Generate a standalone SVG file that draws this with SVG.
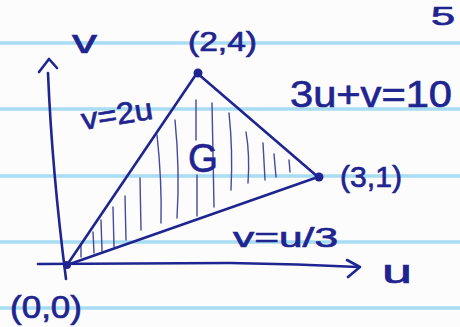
<svg xmlns="http://www.w3.org/2000/svg" width="460" height="327" viewBox="0 0 460 327">
<style>
.paper{fill:#fcfcfc}
.rule{stroke:#a8dcf2;stroke-width:3.5}
.ink{stroke:#1f2590;stroke-width:2.6;fill:none;stroke-linecap:round;stroke-linejoin:round}
.hatch{stroke:#454a9c;stroke-width:1.4;fill:none;stroke-linecap:round}
.dot{fill:#1f2590}
text{font-family:"Liberation Sans",Arial,sans-serif;fill:#1f2590;stroke:#1f2590;stroke-width:0.7}
</style>
<rect class="paper" width="460" height="327"/>
<g id="ruling">
<line class="rule" x1="0" y1="43" x2="460" y2="43"/>
<line class="rule" x1="0" y1="109" x2="460" y2="109"/>
<line class="rule" x1="0" y1="176" x2="460" y2="176"/>
<line class="rule" x1="0" y1="242" x2="460" y2="242"/>
<line class="rule" x1="0" y1="308" x2="460" y2="308"/>
</g>
<text x="431" y="25" font-size="25" textLength="24" lengthAdjust="spacingAndGlyphs">5</text>
<g id="hatching">
<path class="hatch" d="M81,246 L81,257"/>
<path class="hatch" d="M93,232 L94,253"/>
<path class="hatch" d="M101,220 L102,251"/>
<path class="hatch" d="M113,207 L114,247"/>
<path class="hatch" d="M125,196 L126,240"/>
<path class="hatch" d="M140,178 L141,230"/>
<path class="hatch" d="M157,135 Q162,180 161,223"/>
<path class="hatch" d="M175,120 Q180,170 177,218"/>
<path class="hatch" d="M196,100 L196,140"/>
<path class="hatch" d="M197,175 L197,216"/>
<path class="hatch" d="M212,103 L214,207"/>
<path class="hatch" d="M229,113 Q233,150 231,190"/>
<path class="hatch" d="M246,132 Q250,155 248,183"/>
<path class="hatch" d="M263,143 L265,180"/>
<path class="hatch" d="M274,154 L276,177"/>
<path class="hatch" d="M289,160 L290,172"/>
</g>
<g id="axis-v">
<path class="ink" d="M48,73 Q52,170 66,279"/>
<path class="ink" d="M39,72 L49,59 L57,68"/>
<text x="72" y="53" font-size="34" textLength="25" lengthAdjust="spacingAndGlyphs">v</text>
</g>
<g id="axis-u">
<path class="ink" d="M38,264 L230,263 Q300,264 358,267"/>
<path class="ink" d="M347,260 L360,267 L348,277"/>
<text x="382" y="283" font-size="34" textLength="30" lengthAdjust="spacingAndGlyphs">u</text>
</g>
<g id="connectors">
<path class="ink" d="M67,265 L197,73"/>
<path class="ink" d="M197,73 L318,177"/>
<path class="ink" d="M318,177 L67,265"/>
</g>
<g id="label-v2u">
<text x="83" y="130" font-size="30" textLength="72" lengthAdjust="spacingAndGlyphs" transform="rotate(-9 83 130)">v=2u</text>
</g>
<g id="label-3uv10">
<text x="290" y="107" font-size="36" textLength="162" lengthAdjust="spacingAndGlyphs">3u+v=10</text>
</g>
<g id="label-vu3">
<text x="233" y="247" font-size="28" textLength="105" lengthAdjust="spacingAndGlyphs">v=u/3</text>
</g>
<g id="region-G">
<text x="188" y="172" font-size="40" textLength="30" lengthAdjust="spacingAndGlyphs">G</text>
</g>
<g id="vertex-00">
<circle class="dot" cx="67" cy="265" r="4"/>
<text x="10" y="318" font-size="31" textLength="72" lengthAdjust="spacingAndGlyphs">(0,0)</text>
</g>
<g id="vertex-24">
<circle class="dot" cx="198" cy="73" r="4.5"/>
<text x="188" y="51" font-size="28" textLength="69" lengthAdjust="spacingAndGlyphs">(2,4)</text>
</g>
<g id="vertex-31">
<circle class="dot" cx="319" cy="177" r="4.5"/>
<text x="340" y="187" font-size="30" textLength="62" lengthAdjust="spacingAndGlyphs">(3,1)</text>
</g>
</svg>
